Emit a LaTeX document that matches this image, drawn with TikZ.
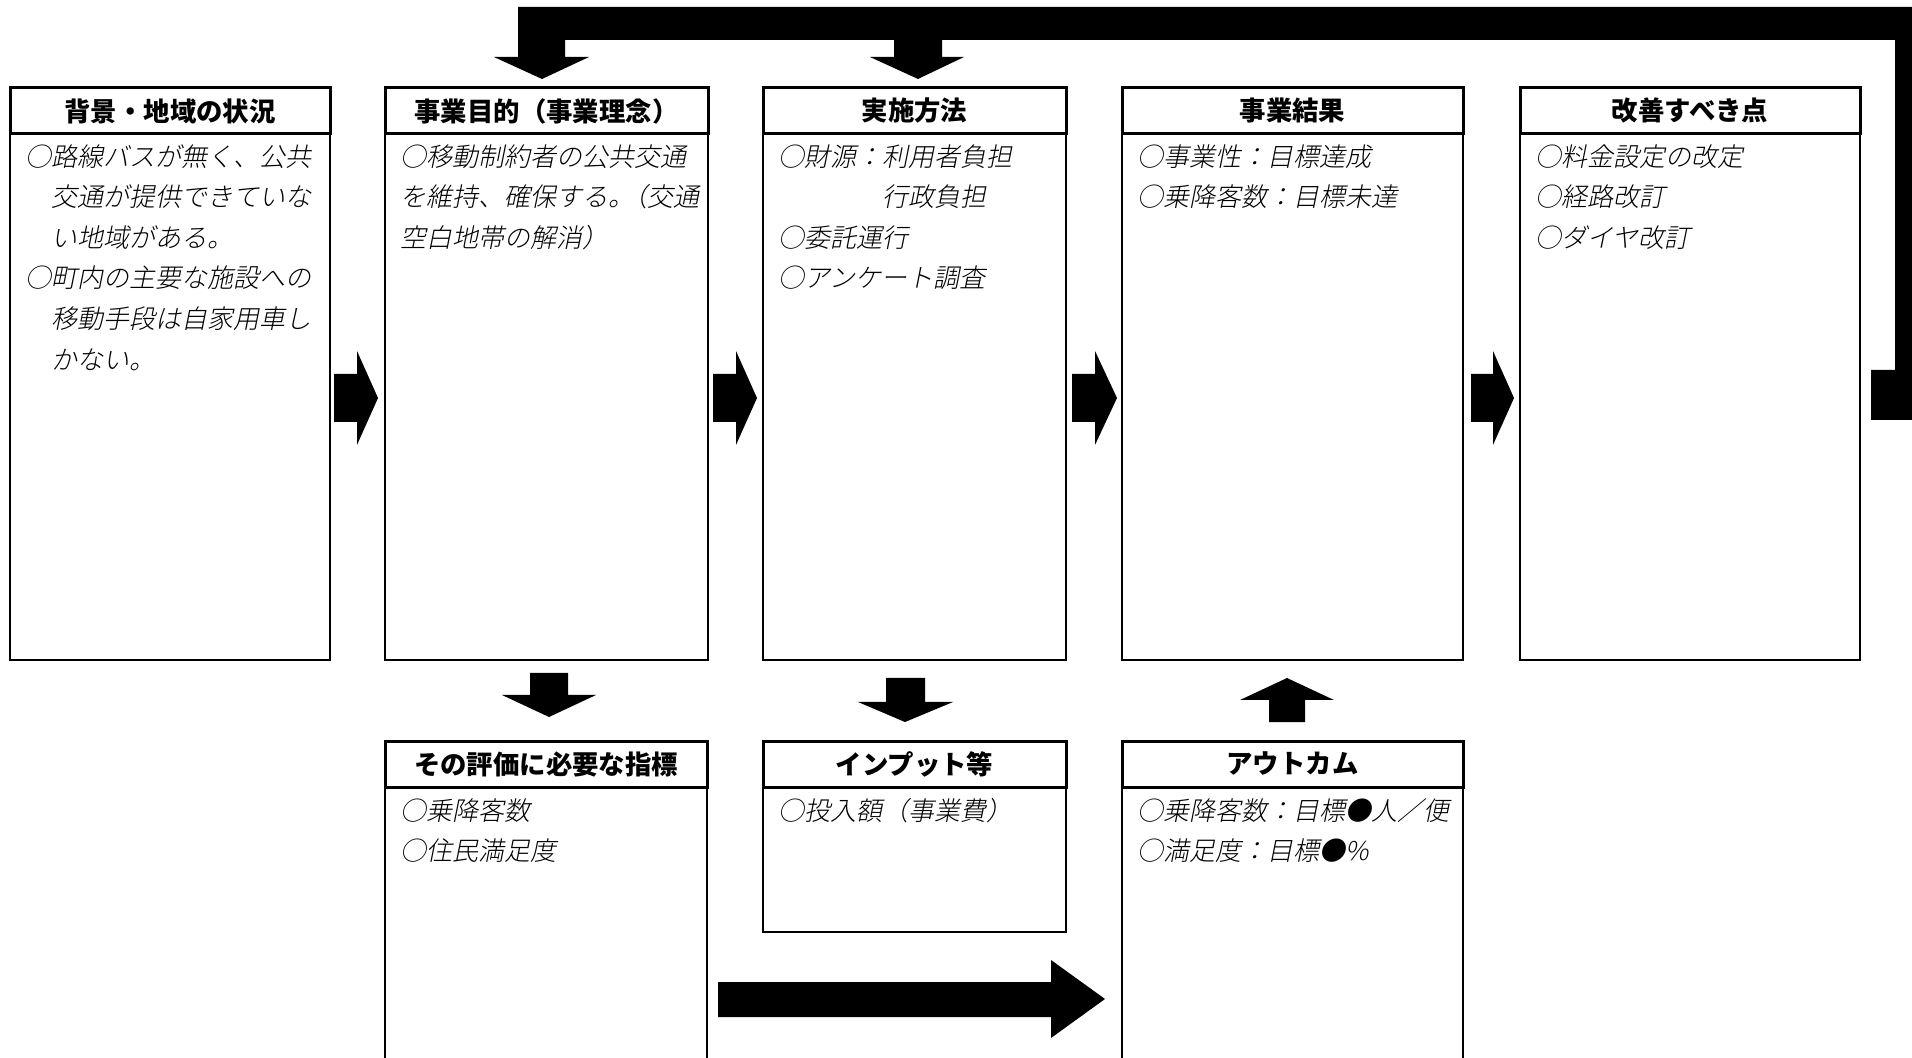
\documentclass[tikz,border=0pt]{standalone}
\usepackage{fontspec}
\newfontfamily\hfont{Noto Sans CJK JP}
\IfFontExistsTF{Noto Sans CJK JP Light}
  {\newfontfamily\bfont{Noto Sans CJK JP Light}[FakeSlant=0.2]}
  {\newfontfamily\bfont{Noto Sans CJK JP}[FakeSlant=0.2]}
\begin{document}
\begin{tikzpicture}[x=0.5pt,y=-0.5pt,
  hdr/.style={draw, line width=1.5pt, fill=white, inner sep=0, font=\hfont\bfseries\fontsize{13.2}{15}\selectfont},
  bodyframe/.style={draw, line width=1pt, inner sep=0},
  txt/.style={anchor=north west, align=left, inner sep=0, font=\bfont\fontsize{13}{20.3}\selectfont},
  blk/.style={fill=black, draw=none}]
\clip (0,0) rectangle (1912,1058);
\useasboundingbox (0,0) rectangle (1912,1058);

% ---- top row: bodies
\node[bodyframe, minimum width=160pt,   minimum height=263pt] (b1) at (170,397) {};
\node[bodyframe, minimum width=161.5pt, minimum height=263pt] (b2) at (546.5,397) {};
\node[bodyframe, minimum width=151.5pt, minimum height=263pt] (b3) at (914.5,397) {};
\node[bodyframe, minimum width=170.5pt, minimum height=263pt] (b4) at (1292.5,397) {};
\node[bodyframe, minimum width=170pt,   minimum height=263pt] (b5) at (1690,397) {};
% ---- top row: headers
\node[hdr, minimum width=160pt,   minimum height=23pt] (h1) at (170,111) {背景・地域の状況};
\node[hdr, minimum width=161.5pt, minimum height=23pt] (h2) at (546.5,111) {事業目的（事業理念）};
\node[hdr, minimum width=151.5pt, minimum height=23pt] (h3) at (914.5,111) {実施方法};
\node[hdr, minimum width=170.5pt, minimum height=23pt] (h4) at (1292.5,111) {事業結果};
\node[hdr, minimum width=170pt,   minimum height=23pt] (h5) at (1690,111) {改善すべき点};

% ---- bottom row: bodies
\node[bodyframe, minimum width=161pt,   minimum height=146.5pt] (b6) at (546,933.5) {};
\node[bodyframe, minimum width=151.5pt, minimum height=72.5pt]  (b7) at (914.5,859.5) {};
\node[bodyframe, minimum width=170.5pt, minimum height=146.5pt] (b8) at (1292.5,933.5) {};
% ---- bottom row: headers
\node[hdr, minimum width=161pt,   minimum height=23pt] (h6) at (546,764) {その評価に必要な指標};
\node[hdr, minimum width=151.5pt, minimum height=23pt] (h7) at (914.5,764) {インプット等};
\node[hdr, minimum width=170.5pt, minimum height=23pt] (h8) at (1292.5,764) {アウトカム};

% ---- texts
\node[txt] (t1) at (25,144) {○路線バスが無く、公共\\　交通が提供できていな\\　い地域がある。\\○町内の主要な施設への\\　移動手段は自家用車し\\　かない。};
\node[txt] (t2) at (400,144) {○移動制約者の公共交通\\を維持、確保する。\kern-0.5em（交通\\空白地帯の解消）};
\node[txt] (t3) at (778,144) {○財源：利用者負担\\　　　　行政負担\\○委託運行\\○アンケート調査};
\node[txt] (t4) at (1137,144) {○事業性：目標達成\\○乗降客数：目標未達};
\node[txt] (t5) at (1535,144) {○料金設定の改定\\○経路改訂\\○ダイヤ改訂};
\node[txt] (t6) at (400,798) {○乗降客数\\○住民満足度};
\node[txt] (t7) at (778,798) {○投入額（事業費）};
\node[txt] (t8) at (1137,798) {○乗降客数：目標●人／便\\○満足度：目標●\%};

% ---- right block arrows between top boxes
\foreach \a/\b/\c in {334/357/378, 713/736/757, 1072/1095/1117, 1471/1493/1514}{
  \fill[blk] (\a,374) -- (\b,374) -- (\b,351) -- (\c,398) -- (\b,445) -- (\b,422) -- (\a,422) -- cycle;
}

% ---- feedback arrow across the top
\fill[blk] (518,7) -- (1920,7) -- (1920,420) -- (1871,420) -- (1871,370) -- (1895,370) -- (1895,40)
  -- (942,40) -- (942,57) -- (964,57) -- (918,79) -- (870,57) -- (894,57) -- (894,40)
  -- (565,40) -- (565,57) -- (589,57) -- (542,79) -- (494,57) -- (518,57) -- cycle;

% ---- down arrows to bottom row
\fill[blk] (530,673) -- (568,673) -- (568,695) -- (596,695) -- (549,717) -- (502,695) -- (530,695) -- cycle;
\fill[blk] (886,678) -- (925,678) -- (925,702) -- (953,702) -- (905,722) -- (858,702) -- (886,702) -- cycle;
% ---- up arrow from outcome to result
\fill[blk] (1269,722) -- (1305,722) -- (1305,700) -- (1334,700) -- (1287,678) -- (1240,700) -- (1269,700) -- cycle;
% ---- big right arrow at the bottom
\fill[blk] (718,982) -- (1051,982) -- (1051,960) -- (1105,999) -- (1051,1038) -- (1051,1017) -- (718,1017) -- cycle;
\end{tikzpicture}
\end{document}
